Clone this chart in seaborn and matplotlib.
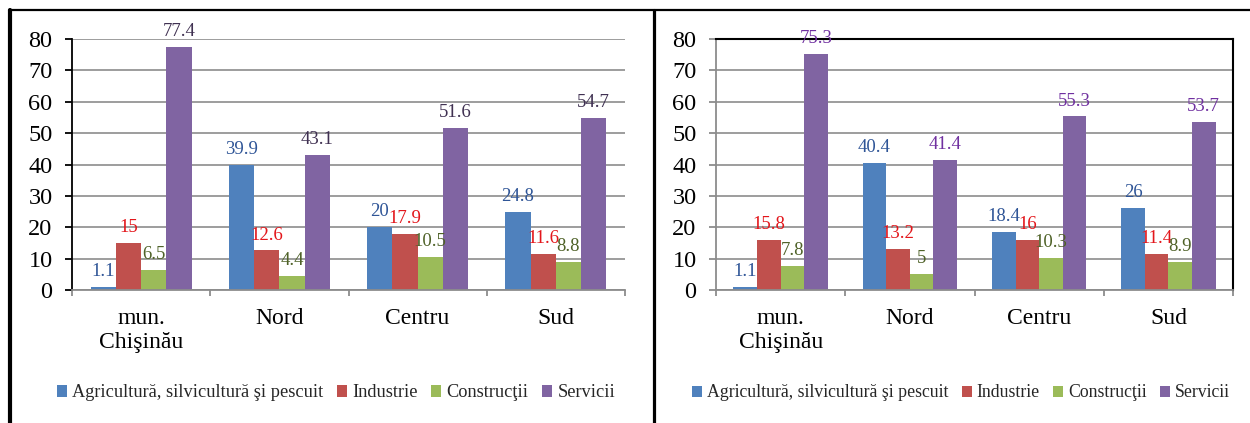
import numpy as np
import pandas as pd
import matplotlib
matplotlib.use("Agg")
import matplotlib.pyplot as plt
from matplotlib.lines import Line2D
from matplotlib.patches import Patch
import seaborn as sns

# ---------------- data ----------------
regions = ["mun.\nChişinău", "Nord", "Centru", "Sud"]
sectors = ["Agricultură, silvicultură şi pescuit", "Industrie", "Construcţii", "Servicii"]

agri_left = [1.1, 39.9, 20, 24.8]
ind_left = [15, 12.6, 17.9, 11.6]
constr_left = [6.5, 4.4, 10.5, 8.8]
serv_left = [77.4, 43.1, 51.6, 54.7]

agri_right = [1.1, 40.4, 18.4, 26]
ind_right = [15.8, 13.2, 16, 11.4]
constr_right = [7.8, 5, 10.3, 8.9]
serv_right = [75.3, 41.4, 55.3, 53.7]

yticks = [0, 10, 20, 30, 40, 50, 60, 70, 80]

bar_colors = ["#4F81BD", "#C0504D", "#9BBB59", "#8064A2"]
label_colors_left = ["#2F5597", "#E3161B", "#4F6228", "#403152"]
label_colors_right = ["#2F5597", "#E3161B", "#4F6228", "#7030A0"]

sns.set_theme(style="white")
plt.rcParams["font.family"] = ["Liberation Serif", "DejaVu Serif"]


def long_df(series):
    rows = []
    for sec, vals in zip(sectors, series):
        for reg, v in zip(regions, vals):
            rows.append({"Regiune": reg, "Sector": sec, "Valoare": v})
    return pd.DataFrame(rows)


df_left = long_df([agri_left, ind_left, constr_left, serv_left])
df_right = long_df([agri_right, ind_right, constr_right, serv_right])

fig = plt.figure(figsize=(12.5, 4.23), dpi=100)
ax_l = fig.add_axes([0.0576, 0.3144, 0.4424, 0.5934])
ax_r = fig.add_axes([0.5728, 0.3144, 0.4136, 0.5934])

GRID = "#8C8C8C"


def draw(ax, df, lab_colors, left_spine_color, framed, legend_x, legend_fs):
    sns.barplot(data=df, x="Regiune", y="Valoare", hue="Sector",
                order=regions, hue_order=sectors, palette=bar_colors,
                width=0.73, gap=0, saturation=1, legend=False, ax=ax,
                edgecolor="none", linewidth=0)
    ax.set_xlim(-0.5, len(regions) - 0.5)
    ax.set_ylim(0, 80)
    ax.set_yticks(yticks)
    ax.set_xlabel("")
    ax.set_ylabel("")
    ax.set_axisbelow(True)
    ax.yaxis.grid(True, color=GRID, linewidth=1.2)
    ax.xaxis.grid(False)
    for c, col in zip(ax.containers, lab_colors):
        ax.bar_label(c, labels=[f"{v:g}" for v in c.datavalues], padding=5,
                     color=col, fontsize=13.5)
    # spines
    ax.spines["left"].set_color(left_spine_color)
    ax.spines["left"].set_linewidth(1.3)
    ax.spines["bottom"].set_color(GRID)
    ax.spines["bottom"].set_linewidth(1.3)
    if framed:
        ax.spines["top"].set_color("black")
        ax.spines["right"].set_color("black")
        ax.spines["top"].set_linewidth(1.5)
        ax.spines["right"].set_linewidth(1.5)
    else:
        ax.spines["top"].set_visible(False)
        ax.spines["right"].set_visible(False)
    ax.tick_params(axis="y", which="major", left=True, length=5, width=1.3,
                   color=left_spine_color, labelsize=17.5, pad=9,
                   labelcolor="black")
    ax.set_xticks(range(len(regions)))
    ax.set_xticklabels(regions)
    ax.set_xticks(np.arange(-0.5, len(regions), 1.0), minor=True)
    ax.tick_params(axis="x", which="major", bottom=True, length=0,
                   labelsize=17, pad=13, labelcolor="black")
    ax.tick_params(axis="x", which="minor", bottom=True, length=4.5,
                   width=1.3, color=GRID)
    handles = [Patch(facecolor=c, edgecolor="none") for c in bar_colors]
    ax.legend(handles, sectors, loc="center", ncol=4,
              bbox_to_anchor=(legend_x, 0.071), bbox_transform=fig.transFigure,
              frameon=False, fontsize=legend_fs, handlelength=0.55,
              handleheight=0.55, handletextpad=0.28, columnspacing=0.75,
              borderaxespad=0)


draw(ax_l, df_left, label_colors_left, "black", False, 336 / 1250, 13.2)
draw(ax_r, df_right, label_colors_right, GRID, True, 961 / 1250, 12.8)

# outer panel borders
W, H = 1250, 423
fig.add_artist(Line2D([9 / W, 1.0], [1 - 10.5 / H, 1 - 10.5 / H],
                      transform=fig.transFigure, color="black", linewidth=1.6))
fig.add_artist(Line2D([10 / W, 10 / W], [0, 1 - 10 / H],
                      transform=fig.transFigure, color="black", linewidth=3.0))
fig.add_artist(Line2D([654 / W, 654 / W], [0, 1 - 10 / H],
                      transform=fig.transFigure, color="black", linewidth=2.3))

fig.savefig("out.png", dpi=100)
